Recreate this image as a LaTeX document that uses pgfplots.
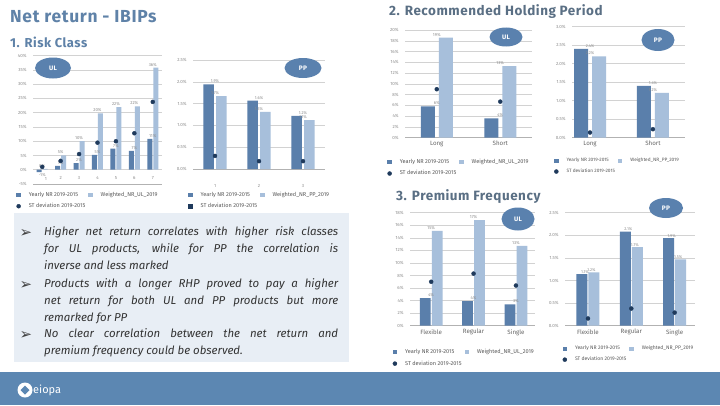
\documentclass[border=0pt]{standalone}
\usepackage{pgfplots}
\pgfplotsset{compat=1.18}
\usepackage{fontspec}
\setmainfont{Fira Sans}
\newfontfamily\dejavu{DejaVu Sans}
\newfontfamily\titlefont[LetterSpace=4]{Fira Sans}
\definecolor{darkbar}{HTML}{5A7FAB}
\definecolor{lightbar}{HTML}{A7BFDB}
\definecolor{dotc}{HTML}{1F3A5C}
\definecolor{titleblue}{HTML}{5F82A8}
\definecolor{subgray}{HTML}{5A6F84}
\definecolor{boxbg}{HTML}{E8EEF5}
\definecolor{footer}{HTML}{5C87B2}
\definecolor{gridc}{HTML}{D2D2D2}
\definecolor{tickc}{HTML}{8C8C8C}
\definecolor{ellc}{HTML}{5A81AE}

\pgfplotsset{
  mini/.style={
    scale only axis, anchor=south west,
    axis x line=bottom, axis y line=left,
    x axis line style={-, draw=gray!60, line width=0.6pt},
    y axis line style={draw=none},
    major tick length=0pt,
    ymajorgrids, grid style={gridc, line width=0.5pt},
    tick label style={font=\fontsize{4.5}{5}\selectfont, text=tickc},
    /pgf/number format/assume math mode=true,
    yticklabel style={xshift=-3bp},
    clip=false,
    legend columns=2,
    legend cell align=left,
    legend style={draw=none, fill=none, font=\fontsize{5.6}{6.2}\selectfont, text=black!65,
      anchor=north west, inner sep=0pt, row sep=1.5bp,
      /tikz/every even column/.append style={column sep=1bp},
      /tikz/every odd column/.append style={column sep=6bp}},
  },
  legdark/.style={legend image code/.code={\fill[darkbar] (0bp,-2.2bp) rectangle (4.4bp,2.2bp);}},
  leglight/.style={legend image code/.code={\fill[lightbar] (0bp,-2.2bp) rectangle (4.4bp,2.2bp);}},
  legdot/.style={legend image code/.code={\fill[dotc] (2.2bp,0bp) circle (2bp);}},
  legsq/.style={legend image code/.code={\fill[dotc] (0bp,-2.2bp) rectangle (4.4bp,2.2bp);}},
  lblint/.style={nodes near coords={\pgfmathprintnumber[fixed,precision=0]{\pgfplotspointmeta}\%},
    nodes near coords align={vertical},
    every node near coord/.append style={font=\fontsize{4.3}{5}\selectfont, text=tickc, inner sep=1.2bp}},
  lbldec/.style={nodes near coords={\pgfmathprintnumber[fixed,fixed zerofill,precision=1]{\pgfplotspointmeta}\%},
    nodes near coords align={vertical},
    every node near coord/.append style={font=\fontsize{4.1}{5}\selectfont, text=tickc, inner sep=1.2bp}},
  stdots/.style={only marks, mark=*, mark size=2bp, color=dotc, mark options={draw=dotc, fill=dotc}},
}

\begin{document}
\begin{tikzpicture}[x=1bp,y=1bp]
\useasboundingbox (0,0) rectangle (720,405);
\fill[white] (0,0) rectangle (720,405);

% titles
\node[anchor=west, font=\titlefont\bfseries\fontsize{17.5}{20}\selectfont, text=titleblue, inner sep=0pt] at (10,388) {Net return - IBIPs};
\node[anchor=west, font=\titlefont\bfseries\fontsize{13}{15}\selectfont, text=titleblue, inner sep=0pt] at (10,363) {1. Risk Class};
\node[anchor=west, font=\titlefont\bfseries\fontsize{13.5}{15}\selectfont, text=subgray, inner sep=0pt] at (389,393) {2. Recommended Holding Period};
\node[anchor=west, font=\titlefont\bfseries\fontsize{13.5}{15}\selectfont, text=subgray, inner sep=0pt] at (396,208) {3. Premium Frequency};

% ---------- 1. Risk class UL ----------
\begin{axis}[mini, at={(33bp,221bp)}, width=129bp, height=128.3bp,
  xmin=0.5, xmax=7.5, ymin=-5, ymax=40, ytick={-5,0,...,40},
  yticklabel={\pgfmathprintnumber{\tick}\%}, xtick=\empty,
  legend style={at={(axis description cs:-0.13,-0.045)}}]
\addplot[ybar, bar width=5bp, bar shift=-3bp, fill=darkbar, draw=none, legdark, lblint]
  coordinates {(1,-0.8) (2,1.4) (3,2.3) (4,5.2) (5,7.4) (6,6.6) (7,10.8)};
\addlegendentry{Yearly NR 2019-2015}
\addplot[ybar, bar width=5bp, bar shift=3bp, fill=lightbar, draw=none, leglight, lblint]
  coordinates {(1,0.3) (2,5.0) (3,10.0) (4,19.8) (5,22.0) (6,22.2) (7,35.8)};
\addlegendentry{Weighted\_NR\_UL\_2019}
\addplot[stdots, legdot]
  coordinates {(1,1.0) (2,3.1) (3,5.5) (4,9.5) (5,10.0) (6,12.8) (7,23.8)};
\addlegendentry{ST deviation 2019-2015}
\foreach \c in {2,...,7} {
  \edef\tmp{\noexpand\node[font=\noexpand\fontsize{4.5}{5}\noexpand\selectfont, text=tickc] at (axis cs:\c,-3) {\c};}
  \tmp
}
\node[font=\fontsize{4.5}{5}\selectfont, text=tickc] at (axis cs:1.2,-3.4) {1};
\end{axis}

% ---------- 1. Risk class PP ----------
\begin{axis}[mini, at={(193bp,236bp)}, width=132bp, height=109bp,
  xmin=0.5, xmax=3.5, ymin=0, ymax=2.5, ytick={0,0.5,...,2.5},
  yticklabel={\pgfmathprintnumber[fixed,fixed zerofill,precision=1]{\tick}\%},
  xtick={1,2,3}, xticklabels={1,2,3}, xticklabel style={yshift=-12bp},
  legend style={at={(axis description cs:-0.04,-0.19)}}]
\addplot[ybar, bar width=10.5bp, bar shift=-6.3bp, fill=darkbar, draw=none, legdark, lbldec]
  coordinates {(1,1.94) (2,1.57) (3,1.22)};
\addlegendentry{Yearly NR 2019-2015}
\addplot[ybar, bar width=10.5bp, bar shift=6.3bp, fill=lightbar, draw=none, leglight, lbldec]
  coordinates {(1,1.67) (2,1.31) (3,1.12)};
\addlegendentry{Weighted\_NR\_PP\_2019}
\addplot[stdots, legsq]
  coordinates {(1,0.30) (2,0.18) (3,0.18)};
\addlegendentry{ST deviation 2019-2015}
\end{axis}

% ---------- 2. RHP UL ----------
\begin{axis}[mini, at={(405bp,267.3bp)}, width=127bp, height=107.7bp,
  xmin=0.5, xmax=2.5, ymin=0, ymax=20, ytick={0,2,...,20},
  yticklabel={\pgfmathprintnumber{\tick}\%},
  xtick={1,2}, xticklabels={Long,Short},
  xticklabel style={font=\fontsize{6.2}{7}\selectfont, text=black!60},
  legend style={at={(axis description cs:-0.14,-0.18)}}]
\addplot[ybar, bar width=14bp, bar shift=-9bp, fill=darkbar, draw=none, legdark, lblint]
  coordinates {(1,5.8) (2,3.6)};
\addlegendentry{Yearly NR 2019-2015}
\addplot[ybar, bar width=14bp, bar shift=9bp, fill=lightbar, draw=none, leglight, lblint]
  coordinates {(1,18.6) (2,13.3)};
\addlegendentry{Weighted\_NR\_UL\_2019}
\addplot[stdots, legdot]
  coordinates {(1,9.0) (2,6.7)};
\addlegendentry{ST deviation 2019-2015}
\end{axis}

% ---------- 2. RHP PP ----------
\begin{axis}[mini, at={(572bp,267.3bp)}, width=113bp, height=111bp,
  xmin=0.714, xmax=2.51, ymin=0, ymax=3, ytick={0,0.5,...,3},
  yticklabel={\pgfmathprintnumber[fixed,fixed zerofill,precision=1]{\tick}\%},
  xtick={1,2}, xticklabels={Long,Short},
  xticklabel style={font=\fontsize{6.2}{7}\selectfont, text=black!60},
  legend style={at={(axis description cs:-0.16,-0.165)}, font=\fontsize{4.8}{5.5}\selectfont}]
\addplot[ybar, bar width=14bp, bar shift=-9bp, fill=darkbar, draw=none, legdark, lbldec]
  coordinates {(1,2.40) (2,1.40)};
\addlegendentry{Yearly NR 2019-2015}
\addplot[ybar, bar width=14bp, bar shift=9bp, fill=lightbar, draw=none, leglight, lbldec]
  coordinates {(1,2.20) (2,1.21)};
\addlegendentry{Weighted\_NR\_PP\_2019}
\addplot[stdots, legdot]
  coordinates {(1,0.14) (2,0.23)};
\addlegendentry{ST deviation 2019-2015}
\end{axis}

% ---------- 3. PF UL ----------
\begin{axis}[mini, at={(410bp,79.3bp)}, width=125bp, height=113bp,
  xmin=0.5, xmax=3.45, ymin=0, ymax=18, ytick={0,2,...,18},
  yticklabel={\pgfmathprintnumber{\tick}\%},
  xtick={1,2,3}, xticklabels={Flexible,Regular,Single},
  xticklabel style={font=\fontsize{6.2}{7}\selectfont, text=black!60},
  legend style={at={(axis description cs:-0.14,-0.19)}}]
\addplot[ybar, bar width=10.7bp, bar shift=-6bp, fill=darkbar, draw=none, legdark, lblint]
  coordinates {(1,4.4) (2,3.9) (3,3.4)};
\addlegendentry{Yearly NR 2019-2015}
\addplot[ybar, bar width=10.7bp, bar shift=6bp, fill=lightbar, draw=none, leglight, lblint]
  coordinates {(1,15.1) (2,16.8) (3,12.7)};
\addlegendentry{Weighted\_NR\_UL\_2019}
\addplot[stdots, legdot]
  coordinates {(1,7.0) (2,8.3) (3,6.4)};
\addlegendentry{ST deviation 2019-2015}
\end{axis}

% ---------- 3. PF PP ----------
\begin{axis}[mini, at={(565bp,79.3bp)}, width=130bp, height=113bp,
  xmin=0.47, xmax=3.47, ymin=0, ymax=2.5, ytick={0,0.5,...,2.5},
  yticklabel={\pgfmathprintnumber[fixed,fixed zerofill,precision=1]{\tick}\%},
  xtick={1,2,3}, xticklabels={Flexible,Regular,Single},
  xticklabel style={font=\fontsize{6.2}{7}\selectfont, text=black!60},
  legend style={at={(axis description cs:-0.02,-0.16)}, font=\fontsize{5.1}{5.8}\selectfont}]
\addplot[ybar, bar width=11bp, bar shift=-6bp, fill=darkbar, draw=none, legdark, lbldec,
  every node near coord/.append style={xshift=-3bp, inner sep=0.5bp}]
  coordinates {(1,1.14) (2,2.08) (3,1.94)};
\addlegendentry{Yearly NR 2019-2015}
\addplot[ybar, bar width=11bp, bar shift=6bp, fill=lightbar, draw=none, leglight, lbldec,
  every node near coord/.append style={xshift=3.5bp, inner sep=0.5bp}]
  coordinates {(1,1.18) (2,1.74) (3,1.47)};
\addlegendentry{Weighted\_NR\_PP\_2019}
\addplot[stdots, legdot]
  coordinates {(1,0.16) (2,0.38) (3,0.29)};
\addlegendentry{ST deviation 2019-2015}
\end{axis}

% ellipses
\draw[fill=ellc, draw=none] (53,337) ellipse (18 and 10.5);
\node[text=white, font=\titlefont\bfseries\fontsize{6.5}{7}\selectfont] at (53,337) {UL};
\draw[fill=ellc, draw=none] (303,337) ellipse (18.5 and 10);
\node[text=white, font=\titlefont\bfseries\fontsize{6.5}{7}\selectfont] at (303,337) {PP};
\draw[fill=ellc, draw=none] (506,368) ellipse (16.5 and 9.5);
\node[text=white, font=\titlefont\bfseries\fontsize{6.5}{7}\selectfont] at (506,368) {UL};
\draw[fill=ellc, draw=none] (658,365) ellipse (16.5 and 11);
\node[text=white, font=\titlefont\bfseries\fontsize{6.5}{7}\selectfont] at (658,365) {PP};
\draw[fill=ellc, draw=none] (518,186) ellipse (16.5 and 11.5);
\node[text=white, font=\titlefont\bfseries\fontsize{6.5}{7}\selectfont] at (518,186) {UL};
\draw[fill=ellc, draw=none] (666,197) ellipse (17 and 10);
\node[text=white, font=\titlefont\bfseries\fontsize{6.5}{7}\selectfont] at (666,197) {PP};

% text box
\fill[boxbg] (14,43) rectangle (349,192);
\foreach \yy in {168,116,66} {
  \node[anchor=base, font=\dejavu\fontsize{15}{16}\selectfont, text=black!75, inner sep=0pt] at (26,\yy) {➢};
}
\node[anchor=north west, text width=294bp, align=justify, inner sep=0pt,
  font=\itshape\fontsize{11.5}{17}\selectfont, text=black!80] at (44,178.5)
  {Higher net return correlates with higher risk classes\linebreak for UL products, while for PP the correlation is\linebreak inverse and less marked};
\node[anchor=north west, text width=294bp, align=justify, inner sep=0pt,
  font=\itshape\fontsize{11.5}{17}\selectfont, text=black!80] at (44,126.5)
  {Products with a longer RHP proved to pay a higher\linebreak net return for both UL and PP products but more\linebreak remarked for PP};
\node[anchor=north west, text width=294bp, align=justify, inner sep=0pt,
  font=\itshape\fontsize{11.5}{17}\selectfont, text=black!80] at (44,76.5)
  {No clear correlation between the net return and\linebreak premium frequency could be observed.};

% footer
\fill[footer] (0,0) rectangle (720,33);
\fill[white] (25,15) circle (7.5);
\fill[footer] (25,19.5) -- (29.5,15) -- (25,10.5) -- (20.5,15) -- cycle;
\node[anchor=west, text=white, font=\fontsize{11}{12}\selectfont, inner sep=0pt] at (33,15) {eiopa};
\end{tikzpicture}
\end{document}
